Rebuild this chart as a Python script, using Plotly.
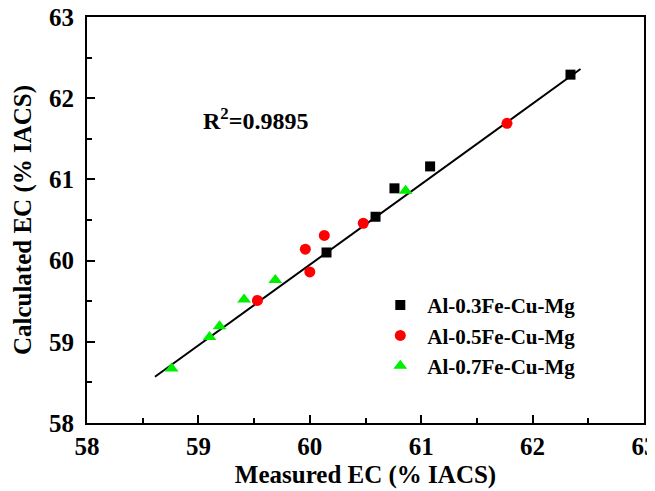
import plotly.graph_objects as go

# Data
s03_name = "Al-0.3Fe-Cu-Mg"
s03_x = [60.15, 60.59, 60.76, 61.08, 62.34]
s03_y = [60.10, 60.54, 60.89, 61.16, 62.29]

s05_name = "Al-0.5Fe-Cu-Mg"
s05_x = [59.53, 59.96, 60.00, 60.13, 60.48, 61.77]
s05_y = [59.51, 60.14, 59.86, 60.31, 60.46, 61.69]

s07_name = "Al-0.7Fe-Cu-Mg"
s07_x = [58.76, 59.10, 59.19, 59.41, 59.69, 60.86]
s07_y = [58.67, 59.06, 59.19, 59.52, 59.76, 60.86]

fit_x = [58.61, 62.43]
fit_y = [58.57, 62.36]

r2_text = "R<sup>2</sup>=0.9895"
tick_vals = [58, 59, 60, 61, 62, 63]
x_title = "Measured EC (% IACS)"
y_title = "Calculated EC (% IACS)"

FONT = "Liberation Serif"

fig = go.Figure()
fig.add_trace(go.Scatter(x=fit_x, y=fit_y, mode="lines",
                         line=dict(color="black", width=2), showlegend=False,
                         hoverinfo="skip"))
fig.add_trace(go.Scatter(x=s03_x, y=s03_y, mode="markers", name=s03_name,
                         marker=dict(symbol="square", size=10, color="black")))
fig.add_trace(go.Scatter(x=s05_x, y=s05_y, mode="markers", name=s05_name,
                         marker=dict(symbol="circle", size=11, color="#ff0000")))
fig.add_trace(go.Scatter(x=s07_x, y=s07_y, mode="markers", name=s07_name,
                         marker=dict(symbol="triangle-up", size=12, color="#00ee00")))

axis_common = dict(
    range=[58, 63], tickvals=tick_vals, ticks="inside", ticklen=8, tickwidth=2,
    tickcolor="black", showline=True, linecolor="black", linewidth=2,
    mirror=True, showgrid=False, zeroline=False, automargin=False,
    ticklabeloverflow="allow",
    tickfont=dict(family=FONT, size=25, color="black", weight="bold"),
    minor=dict(dtick=0.5, ticks="inside", ticklen=5, tickwidth=2, tickcolor="black"),
)

fig.update_xaxes(**axis_common, ticklabelstandoff=0,
                 title=dict(text=x_title, standoff=6,
                            font=dict(family=FONT, size=25, color="black", weight="bold")))
fig.update_yaxes(**axis_common, ticklabelstandoff=6,
                 title=dict(text=y_title, standoff=10,
                            font=dict(family=FONT, size=25, color="black", weight="bold")))

fig.add_annotation(x=59.02, y=61.75, xref="x", yref="y", text=r2_text,
                   showarrow=False, xanchor="left", yanchor="middle",
                   font=dict(family=FONT, size=24, color="black", weight="bold"))

# The page body adds an 8px offset; the figure is sized so the plot lands
# where the reference draws it inside the 655x491 window.
fig.update_layout(
    width=647, height=483,
    margin=dict(l=79, r=11, t=9, b=68),
    plot_bgcolor="white", paper_bgcolor="white",
    legend=dict(x=0.514, y=0.34, xanchor="left", yanchor="top",
                bgcolor="rgba(0,0,0,0)", itemwidth=44,
                font=dict(family=FONT, size=21, color="black", weight="bold")),
    showlegend=True,
)

fig.write_html("out.html")
